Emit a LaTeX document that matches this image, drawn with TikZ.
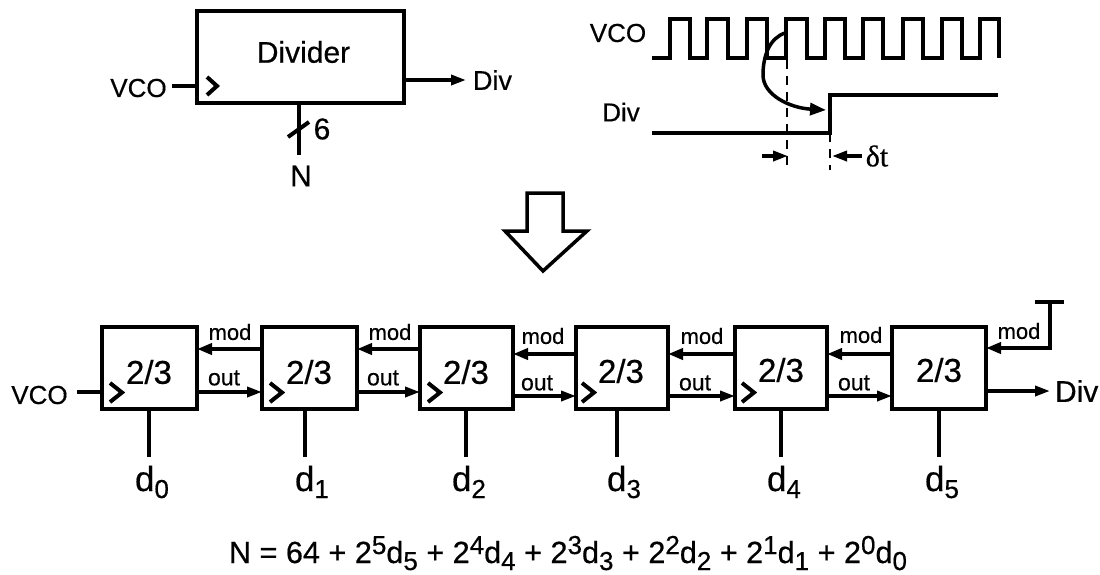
\documentclass[tikz,border=0pt]{standalone}
\usepackage{fontspec}
\setmainfont[RawFeature={embolden=0.5}]{Liberation Sans}
\newfontfamily\timesf[RawFeature={embolden=0.5}]{Liberation Serif}
\usetikzlibrary{arrows.meta,calc}
\newcommand{\fs}[1]{\fontsize{#1}{#1}\selectfont}
\newcommand{\dlab}[1]{d\raisebox{-7pt}{\fs{26}#1}}
\newcommand{\fsub}[1]{\raisebox{-7pt}{\fs{26}#1}}
\newcommand{\fsup}[1]{\raisebox{9pt}{\fs{26}#1}}
\tikzset{
  x=1pt,y=-1pt,
  wire/.style={line width=4pt,line cap=butt},
  modconn/.style={line width=4pt,-{Triangle[length=15pt,width=11pt]}},
  conn/.style={line width=3.5pt,-{Triangle[length=15pt,width=10pt]}},
  chev/.style={line width=4pt,line join=miter},
  wave/.style={line width=3.5pt,line join=miter},
  dash1/.style={line width=2.5pt,dash pattern=on 9pt off 7pt},
  block/.style={draw,line width=4pt,minimum height=82pt,inner sep=0pt,outer sep=0pt},
  lab/.style={inner sep=0pt,outer sep=0pt,anchor=center},
  big/.style={lab,font=\fs{33}},
  txt/.style={lab,font=\fs{30}},
  vlab/.style={lab,font=\fs{26}},
  sm/.style={lab,font=\fs{22}}
}
\begin{document}
\begin{tikzpicture}
\useasboundingbox (0,0) rectangle (1100,574);
% top-left divider
\node[block,minimum width=207pt,minimum height=92pt] (dv) at (300.5,57) {};
\node[lab,font=\fs{30}] (dvt) at (303.5,52) {Divider};
\node[vlab] (vcoa) at (138.5,88) {VCO};
\coordinate (vcoaE) at (172,86);
\draw[wire] (vcoaE) -- (vcoaE -| dv.west);
\draw[chev] (207,77) -- (217,86) -- (207,95);
\node[lab,font=\fs{27},anchor=west] (diva) at (473,80) {Div};
\draw[conn,shorten >=7pt] (dv.east |- diva) -- (diva.west);
\coordinate (busE) at (299,155);
\draw[wire] (busE |- dv.south) -- (busE);
\draw[wire] (288,137) -- (309,122);
\node[txt] (six) at (322,129) {6};
\node[txt] (nn) at (301,176) {N};
% waveform
\node[vlab] (vcob) at (618,33) {VCO};
\node[vlab] (divb) at (621,112) {Div};
\draw[wave] (652,58) -- (670,58) -- (670,19) -- (690,19) -- (690,58) -- (707,58) -- (707,19) -- (728,19) -- (728,58) -- (747,58) -- (747,19) -- (767,19) -- (767,58) -- (786,58) -- (786,19) -- (807,19) -- (807,58) -- (825,58) -- (825,19) -- (845,19) -- (845,58) -- (863,58) -- (863,19) -- (883,19) -- (883,58) -- (903,58) -- (903,19) -- (923,19) -- (923,58) -- (942,58) -- (942,19) -- (962,19) -- (962,58) -- (980,58) -- (980,19) -- (999,19) -- (999,58);
\draw[wave] (652,133) -- (830,133) -- (830,95) -- (998,95);
\draw[dash1] (787,60) -- (787,170);
\draw[dash1] (830,133) -- (830,170);
\draw[line width=3.5pt,-{Triangle[length=16pt,width=12pt]}] (785,33) .. controls (770,38) and (763,55) .. (763,75) .. controls (763,95) and (790,108) .. (826,110);
\draw[conn] (762,156) -- (788,156);
\draw[conn] (862,156) -- (832,156);
\node[lab,font=\timesf\fs{30}] (dt) at (877,156) {δt};
% big arrow
\draw[line width=3.5pt,line join=miter] (527,193) -- (563,193) -- (563,231) -- (587,231) -- (543,271) -- (505,231) -- (527,231) -- cycle;
% chain
\node[block,minimum width=95pt] (b0) at (149.5,368) {};
\node[block,minimum width=95pt] (b1) at (309.5,368) {};
\node[block,minimum width=93pt] (b2) at (466.5,368) {};
\node[block,minimum width=92pt] (b3) at (622,368) {};
\node[block,minimum width=92pt] (b4) at (781,368) {};
\node[block,minimum width=94pt] (b5) at (939,368) {};
\foreach \n/\x/\y in {b0/149/372,b1/309/372,b2/466/372,b3/621/371,b4/781/370,b5/939/370}{
  \node[big] (\n t) at (\x,\y) {2/3};
}
\foreach \x in {110,270,428,582,742}{
  \draw[chev] (\x,383) -- (\x+12,392.5) -- (\x,402);
}
\node[vlab] (vcoc) at (39.5,395) {VCO};
\coordinate (vcocE) at (77,392);
\draw[wire] (vcocE) -- (vcocE -| b0.west);
% mod / out arrows
\foreach \a/\b/\ms/\os/\mx/\ox/\my/\oy in {b0/b1/19/-24/230/224/332/378, b1/b2/19/-24/390/383/332/378, b2/b3/14/-28/543/537/336/383, b3/b4/14/-28/702/695/336/383, b4/b5/14/-28/861/854/335/383}{
  \draw[modconn] ([yshift=\ms pt]\b.west) -- ([yshift=\ms pt]\a.east);
  \draw[conn] ([yshift=\os pt]\a.east) -- ([yshift=\os pt]\b.west);
  \node[sm] (m\a) at (\mx,\my) {mod};
  \node[sm,font=\fs{23}] (o\a) at (\ox,\oy) {out};
}
\node[sm] (m5) at (1019,331) {mod};
\coordinate (tee) at (1050,302);
\coordinate (teeL) at (1035,302);
\coordinate (teeR) at (1064,302);
\draw[wire] (teeL) -- (teeR);
\draw[modconn,line join=miter] (tee) -- (1050,348) -- (1050,348 -| b5.east);
\node[lab,font=\fs{30},anchor=west] (divc) at (1055,391) {Div};
\draw[conn,shorten >=5pt] (b5.east |- divc) -- (divc.west);
% d lines
\foreach \n/\lx/\x/\i in {b0/149/136/0,b1/305/296/1,b2/466/453/2,b3/617/608/3,b4/781/768/4,b5/939/926/5}{
  \coordinate (e\n) at (\lx,457);
  \draw[wire] (e\n |- \n.south) -- (e\n);
  \node[lab,font=\fs{35},anchor=base west] (d\i) at (\x-1,491) {\dlab{\i}};
}
\node[lab,font=\fs{30.6},anchor=base] (eq) at (568,563) {N = 64 + 2\fsup{5}d\fsub{5} + 2\fsup{4}d\fsub{4} + 2\fsup{3}d\fsub{3} + 2\fsup{2}d\fsub{2} + 2\fsup{1}d\fsub{1} + 2\fsup{0}d\fsub{0}};
\end{tikzpicture}
\end{document}
